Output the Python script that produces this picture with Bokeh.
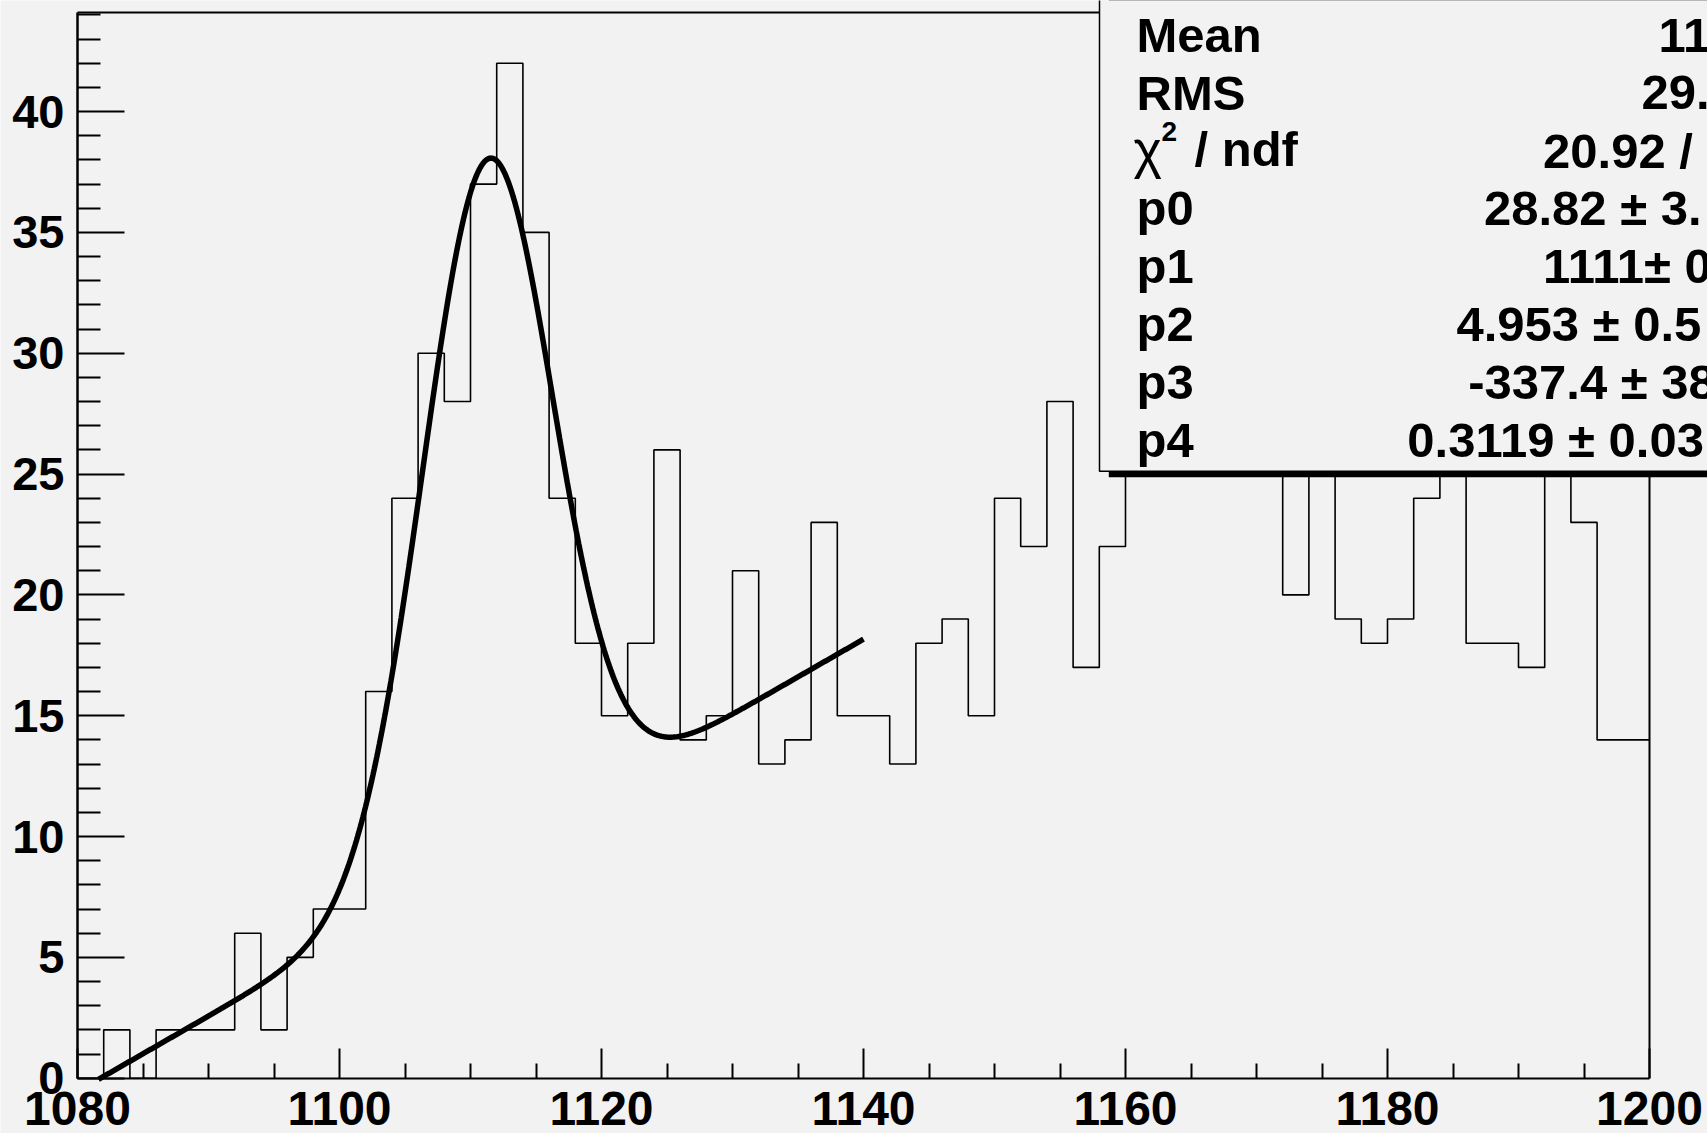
import numpy as np
from bokeh.plotting import figure
from bokeh.models import Range1d, FixedTicker, Label
from bokeh.embed import file_html
from bokeh.resources import INLINE

# ---------------- data ----------------
hist_lo = 1080
hist_hi = 1200
n_bins = 60
bin_counts = [0, 2, 0, 2, 2, 2, 6, 2, 5, 7,
              7, 16, 24, 30, 28, 37, 42, 35, 24, 18,
              15, 18, 26, 14, 15, 21, 13, 14, 23, 15,
              15, 13, 18, 19, 15, 24, 22, 28, 17, 22,
              27, 31, 26, 29, 33, 27, 20, 30, 19, 18,
              19, 24, 26, 18, 18, 17, 28, 23, 14, 14]

# fit: gaus(p0,p1,p2) + pol1(p3,p4)
fit_params = [28.82, 1111.3, 4.953, -337.4, 0.3119]
fit_range = [1081.6, 1140.0]

x_major_ticks = [1080, 1100, 1120, 1140, 1160, 1180, 1200]
x_minor_ticks = [1085, 1090, 1095, 1105, 1110, 1115, 1125, 1130, 1135,
                 1145, 1150, 1155, 1165, 1170, 1175, 1185, 1190, 1195]
y_major_ticks = [0, 5, 10, 15, 20, 25, 30, 35, 40]
y_minor_ticks = [1, 2, 3, 4, 6, 7, 8, 9, 11, 12, 13, 14, 16, 17, 18, 19,
                 21, 22, 23, 24, 26, 27, 28, 29, 31, 32, 33, 34, 36, 37,
                 38, 39, 41, 42, 43, 44]
y_max = 44.1

stat_names = ["Mean", "RMS", None, "p0", "p1", "p2", "p3", "p4"]
stat_values = ["11", "29.", "20.92 /", "28.82 \u00b1 3.", "1111\u00b1 0",
               "4.953 \u00b1 0.5", "-337.4 \u00b1 38", "0.3119 \u00b1 0.03"]

# ---------------- layout (page pixels) ----------------
W, H = 1707, 1133
FR_LEFT = 77.0             # page x of x=1080
FR_BOTTOM = 1077.7         # page y of y=0
XS = (1649 - FR_LEFT) / (hist_hi - hist_lo)   # px per x unit
YS = (FR_BOTTOM - 12) / y_max                 # px per y unit
x_start = hist_lo - FR_LEFT / XS
x_end = hist_lo + (W - FR_LEFT) / XS
y_end = FR_BOTTOM / YS
y_start = -(H - FR_BOTTOM) / YS
LABEL_FIX = 16             # empirical baseline correction (px)


def dx(px):
    return hist_lo + (px - FR_LEFT) / XS


def dy(py):
    return (FR_BOTTOM - py) / YS


BG = "#f2f2f2"
FONT = "Liberation Sans"

p = figure(width=W, height=H, output_backend="svg", toolbar_location=None,
           title=None, x_range=Range1d(x_start, x_end), y_range=Range1d(y_start, y_end),
           min_border_left=0, min_border_right=0, min_border_top=0,
           min_border_bottom=0)
p.background_fill_color = BG
p.border_fill_color = BG
p.outline_line_color = None
p.xgrid.visible = False
p.ygrid.visible = False

# histogram outline
edges = np.linspace(hist_lo, hist_hi, n_bins + 1)
p.step(x=list(edges), y=bin_counts + [bin_counts[-1]], mode="after",
       line_color="black", line_width=1.6)

# fit curve
xf = np.linspace(fit_range[0], fit_range[1], 600)
p0, p1, p2, p3, p4 = fit_params
yf = p0 * np.exp(-0.5 * ((xf - p1) / p2) ** 2) + p3 + p4 * xf
p.line(xf, yf, line_color="black", line_width=5.5)

# frame top and right
p.segment(x0=[hist_lo, hist_hi], y0=[y_max, 0], x1=[hist_hi, hist_hi],
          y1=[y_max, y_max], line_color="black", line_width=2)

# stats box with shadow
p.quad(left=dx(1108.3), right=x_end + 10, bottom=dy(476.7), top=y_end + 10,
       fill_color="black", line_color=None)
p.quad(left=dx(1099), right=x_end + 10, bottom=dy(470.7), top=y_end + 10,
       fill_color=BG, line_color="black", line_width=1.5)

# axes (fixed at the frame edges x=1080 / y=0)
xa = p.xaxis[0]
xa.fixed_location = 0
xa.bounds = (hist_lo, hist_hi)
xa.ticker = FixedTicker(ticks=x_major_ticks, minor_ticks=x_minor_ticks)
xa.axis_line_width = 2
xa.major_tick_in = 30
xa.major_tick_out = 0
xa.minor_tick_in = 15
xa.minor_tick_out = 0
xa.major_tick_line_width = 2
xa.minor_tick_line_width = 2
xa.major_label_text_font = FONT
xa.major_label_text_font_style = "bold"
xa.major_label_text_font_size = "48px"
xa.major_label_text_color = "black"
xa.major_label_standoff = 14

ya = p.yaxis[0]
ya.fixed_location = hist_lo
ya.bounds = (0, y_max)
ya.ticker = FixedTicker(ticks=y_major_ticks, minor_ticks=y_minor_ticks)
ya.axis_line_width = 2.5
ya.major_tick_in = 47
ya.major_tick_out = 0
ya.minor_tick_in = 23
ya.minor_tick_out = 0
ya.major_tick_line_width = 2
ya.minor_tick_line_width = 2
ya.major_label_text_font = FONT
ya.major_label_text_font_style = "bold"
ya.major_label_text_font_size = "47px"
ya.major_label_text_color = "black"
ya.major_label_standoff = 13


def add_text(px, py, text, size, bold=True):
    p.add_layout(Label(x=dx(px), y=dy(py - LABEL_FIX), text=text,
                       text_font=FONT, text_font_style="bold" if bold else "normal",
                       text_font_size=f"{size}px", text_baseline="alphabetic",
                       text_align="left", text_color="black"))


# stats texts
row_base = [50.5 + 57.8 * i for i in range(8)]
val_x = [1658, 1641, 1542.6, 1483.5, 1542.6, 1456, 1467.8, 1406.8]
for i, name in enumerate(stat_names):
    if name is not None:
        add_text(1136, row_base[i], name, 49)
    add_text(val_x[i], row_base[i], stat_values[i], 49)

# chi2 / ndf label pieces
add_text(1133, 164, "\u03c7", 54, bold=False)
add_text(1161, 147, "2", 28)
add_text(1194, row_base[2] - 2, "/ ndf", 49)

open("out.html", "w").write(file_html(p, INLINE))
